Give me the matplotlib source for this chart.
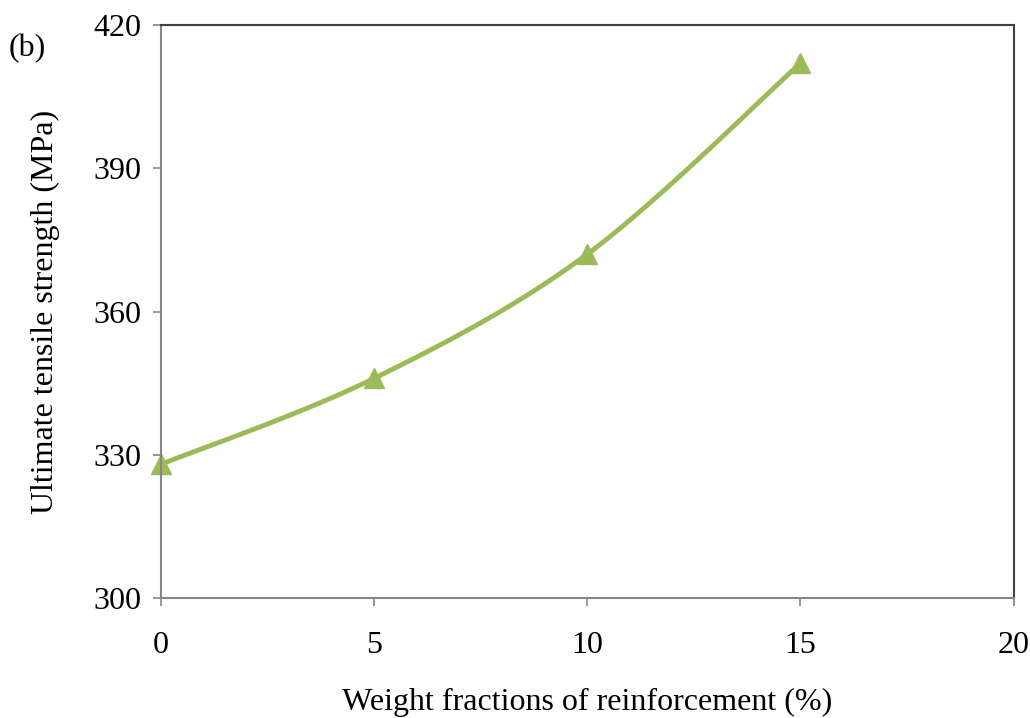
import numpy as np
import matplotlib
matplotlib.use("Agg")
import matplotlib.pyplot as plt

plt.rcParams['font.family'] = ['Liberation Serif', 'DejaVu Serif']

wt_frac = [0, 5, 10, 15]
uts = [328, 346, 372, 412]
xticks = [0, 5, 10, 15, 20]
yticks = [300, 330, 360, 390, 420]


def smooth_curve(x, y, n=40):
    # excel-style smoothed line: bezier segments with catmull-rom control points
    x = np.asarray(x, float); y = np.asarray(y, float)
    px = np.concatenate([[x[0]], x, [x[-1]]])
    py = np.concatenate([[y[0]], y, [y[-1]]])
    xs, ys = [], []
    t = np.linspace(0, 1, n)
    for i in range(1, len(px) - 2):
        p0 = np.array([px[i], py[i]]); p3 = np.array([px[i+1], py[i+1]])
        p1 = p0 + (np.array([px[i+1], py[i+1]]) - np.array([px[i-1], py[i-1]])) / 6
        p2 = p3 - (np.array([px[i+2], py[i+2]]) - np.array([px[i], py[i]])) / 6
        b = ((1-t)**3)[:, None]*p0 + (3*(1-t)**2*t)[:, None]*p1 \
            + (3*(1-t)*t**2)[:, None]*p2 + (t**3)[:, None]*p3
        xs.append(b[:, 0]); ys.append(b[:, 1])
    return np.concatenate(xs), np.concatenate(ys)


fig = plt.figure(figsize=(10.3, 7.18), dpi=100)
ax = fig.add_axes([0.156, 0.167, 0.828, 0.798])

sx, sy = smooth_curve(wt_frac, uts)
ax.plot(sx, sy, color='#9BBB59', linewidth=3.5, solid_capstyle='round',
        clip_on=False)
ax.plot(wt_frac, uts, linestyle='none', marker='^', markersize=15,
        color='#9BBB59', clip_on=False)

ax.set_xlim(0, 20); ax.set_ylim(300, 420)
ax.set_xticks(xticks); ax.set_yticks(yticks)
ax.tick_params(direction='out', length=6, width=1.2, color='#868686',
               labelsize=23)
ax.tick_params(axis='x', pad=18)
ax.tick_params(axis='y', pad=8)
for s in ['left', 'bottom']:
    ax.spines[s].set_color('#868686'); ax.spines[s].set_linewidth(1.5)
for s in ['top', 'right']:
    ax.spines[s].set_color('#404040'); ax.spines[s].set_linewidth(1.5)

ax.set_xlabel('Weight fractions of reinforcement (%)', fontsize=23, labelpad=20)
ax.set_ylabel('Ultimate tensile strength (MPa)', fontsize=23, labelpad=24)
fig.text(0.008, 0.922, '(b)', fontsize=23)

plt.savefig('out.png', dpi=100)
plt.close()
